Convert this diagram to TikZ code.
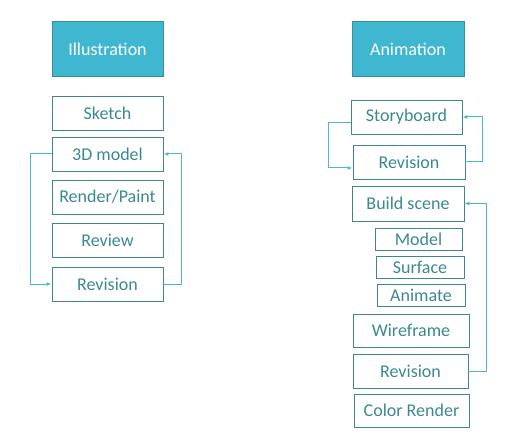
\documentclass[tikz,border=0pt]{standalone}
\usepackage{fontspec}
\setmainfont{Carlito}
\usetikzlibrary{arrows.meta}
\definecolor{hdrfill}{HTML}{40B7D1}
\definecolor{hdrdraw}{HTML}{3A8E9A}
\definecolor{boxdraw}{HTML}{3F8690}
\definecolor{txt}{HTML}{3B8891}
\definecolor{conn}{HTML}{4FB6CB}
\tikzset{
  hdr/.style={draw=hdrdraw, fill=hdrfill, line width=1pt, text=white, font=\fontsize{18}{21}\selectfont, inner sep=0pt},
  stepbox/.style={draw=boxdraw, line width=0.95pt, text=txt, font=\fontsize{18}{21}\selectfont, inner sep=0pt},
  loop/.style={draw=conn, line width=1pt, -{Latex[length=5pt,width=4pt]}}
}
\begin{document}
\begin{tikzpicture}[x=1pt,y=-1pt]
\useasboundingbox (0,0) rectangle (516,446);
% left column
\node[hdr, minimum width=111pt, minimum height=55pt] (ill) at (107.5,49.5) {Illustration};
\node[stepbox, minimum width=111pt, minimum height=34pt] (sketch) at (107.5,113) {Sketch};
\node[stepbox, minimum width=111pt, minimum height=34pt] (mod3d) at (107.5,154) {3D model};
\node[stepbox, minimum width=111pt, minimum height=34pt] (render) at (107.5,197) {Render/Paint};
\node[stepbox, minimum width=111pt, minimum height=34pt] (review) at (107.5,240) {Review};
\node[stepbox, minimum width=111pt, minimum height=34pt] (revA) at (107.5,284) {Revision};
% right column
\node[hdr, minimum width=112pt, minimum height=55pt] (anim) at (408,49.5) {Animation};
\node[stepbox, minimum width=111pt, minimum height=34pt] (story) at (406.5,117) {Storyboard};
\node[stepbox, minimum width=112pt, minimum height=34pt] (revB) at (409,162) {Revision};
\node[stepbox, minimum width=112pt, minimum height=35pt] (build) at (408,203.5) {Build scene};
\node[stepbox, minimum width=87pt, minimum height=22pt] (model) at (418.5,239) {Model};
\node[stepbox, minimum width=88pt, minimum height=22pt] (surface) at (420,267) {Surface};
\node[stepbox, minimum width=88pt, minimum height=22pt] (animate) at (421,295) {Animate};
\node[stepbox, minimum width=116pt, minimum height=33pt] (wire) at (411,330.5) {Wireframe};
\node[stepbox, minimum width=115pt, minimum height=34pt] (revC) at (410.5,371) {Revision};
\node[stepbox, minimum width=115pt, minimum height=33pt] (color) at (411.5,410.5) {Color Render};
% loops
\draw[loop] (mod3d.west) -- ++(-21,0) |- (revA.west);
\draw[loop] (revA.east) -- ++(18,0) |- (mod3d.east);
\draw[loop] ([yshift=-6pt]story.west) -- ++(-22,0) |- ([yshift=-6pt]revB.west);
\draw[loop] (revB.east) -- ++(17,0) |- (story.east);
\draw[loop] (revC.east) -- ++(18,0) |- (build.east);
\end{tikzpicture}
\end{document}
